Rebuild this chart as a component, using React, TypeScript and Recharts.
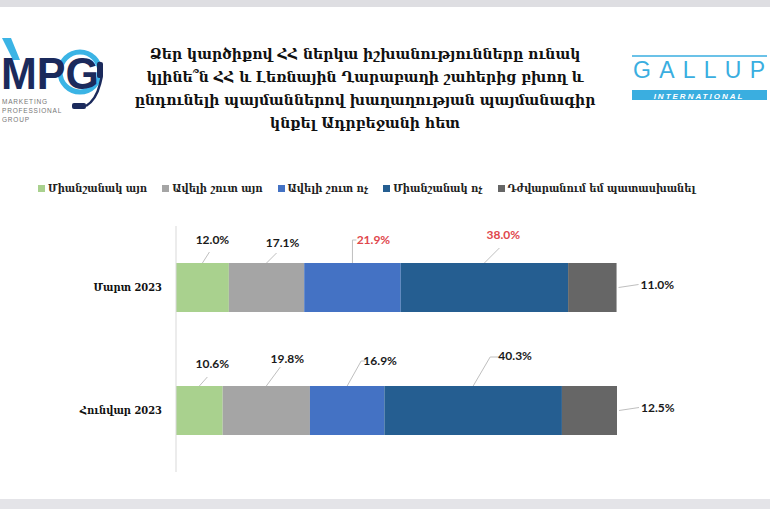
import { BarChart, Bar, XAxis, YAxis, LabelList } from "recharts"

// survey answers per wave (percent)
const categories = ["Մարտ 2023", "Հունվար 2023"]
const seriesNames = [
  "Միանշանակ այո",
  "Ավելի շուտ այո",
  "Ավելի շուտ ոչ",
  "Միանշանակ ոչ",
  "Դժվարանում եմ պատասխանել",
]
const yesDefinitely = [12.0, 10.6]
const yesRather = [17.1, 19.8]
const noRather = [21.9, 16.9]
const noDefinitely = [38.0, 40.3]
const hardToSay = [11.0, 12.5]

const titleLines = [
  "Ձեր կարծիքով ՀՀ ներկա իշխանությունները ունակ",
  "կլինե՞ն ՀՀ և Լեռնային Ղարաբաղի շահերից բխող և",
  "ընդունելի պայմաններով խաղաղության պայմանագիր",
  "կնքել Ադրբեջանի հետ",
]

const seriesValues = [yesDefinitely, yesRather, noRather, noDefinitely, hardToSay]
const colors = ["#a9d18e", "#a5a5a5", "#4472c4", "#255e91", "#666666"]
const keys = ["s0", "s1", "s2", "s3", "s4"]

const data = categories.map((name, i) => {
  const row: any = { name }
  seriesValues.forEach((vals, s) => (row[keys[s]] = vals[i]))
  return row
})

// leader-line / label placement per [row][series]: line end (lx, ly), elbow length, label centre (tx, ty)
// offsets from the segment's centre at the bar's top edge
const labelPos = [
  [
    { lx: 7, ly: -11, el: 0, tx: 10, ty: -22 },
    { lx: 10, ly: -10, el: 0, tx: 16, ty: -19 },
    { lx: 0, ly: -23, el: 4, tx: 21, ty: -22 },
    { lx: 15, ly: -15, el: 0, tx: 19, ty: -27 },
  ],
  [
    { lx: 8, ly: -9, el: 0, tx: 13, ty: -21 },
    { lx: 14, ly: -19, el: 0, tx: 21, ty: -26 },
    { lx: 14, ly: -25, el: 4, tx: 33, ty: -24 },
    { lx: 17, ly: -29, el: 10, tx: 42, ty: -29 },
  ],
]
const redLabels = ["0-2", "0-3"]

const serif = "'DejaVu Serif', serif"
const serifNarrow = "'DejaVu Serif Condensed', 'DejaVu Serif', serif"
const labelFont = "Lato, 'Liberation Sans', sans-serif"

function makeLabel(s: number) {
  return (p: any) => {
    const { x, y, width, height, value, index } = p
    const fill = redLabels.includes(`${index}-${s}`) ? "#e0474c" : "#1a1a1a"
    const txt = `${Number(value).toFixed(1)}%`
    if (s === 4) {
      const cy = y + height / 2
      const ex = x + width
      return (
        <g>
          <line x1={ex + 2} y1={cy} x2={ex + 22} y2={cy - 3} stroke="#bfbfbf" strokeWidth={1} />
          <text x={ex + 24} y={cy - 2} dominantBaseline="middle" fontFamily={labelFont} fontWeight={700} fontSize={12} fill={fill}>
            {txt}
          </text>
        </g>
      )
    }
    const pos = labelPos[index][s]
    const cx = x + width / 2
    return (
      <g>
        <polyline
          points={`${cx},${y} ${cx + pos.lx},${y + pos.ly} ${cx + pos.lx + pos.el},${y + pos.ly}`}
          fill="none"
          stroke="#bfbfbf"
          strokeWidth={1}
        />
        <text x={cx + pos.tx} y={y + pos.ty} textAnchor="middle" dominantBaseline="middle" fontFamily={labelFont} fontWeight={700} fontSize={12} fill={fill}>
          {txt}
        </text>
      </g>
    )
  }
}

function CategoryTick({ x, y, payload }: any) {
  return (
    <text x={x - 6} y={y} textAnchor="end" dominantBaseline="middle" fontFamily={serifNarrow} fontWeight={700} fontSize={11} fill="#111">
      {payload.value}
    </text>
  )
}

function MpgLogo() {
  return (
    <svg width={110} height={130} style={{ position: "absolute", left: 0, top: 0 }}>
      <polygon points="2,38 11,38 20,60 13,60" fill="#3bb4e5" />
      <circle cx={80} cy={72} r={20} fill="none" stroke="#3bb4e5" strokeWidth={5} />
      <text x={1} y={89} fontFamily="'Liberation Sans', Arial, sans-serif" fontWeight={700} fontSize={44} fill="#1b2a5c" textLength={98} lengthAdjust="spacingAndGlyphs">
        MPG
      </text>
      <path d="M99,62 Q104,72 100,84 Q96,100 86,106" fill="none" stroke="#1b2a5c" strokeWidth={2.5} />
      <rect x={97} y={62} width={6} height={16} rx={2} fill="#1b2a5c" />
      <rect x={72} y={103} width={14} height={6} rx={2} fill="#1b2a5c" />
      <g fontFamily="'Liberation Sans', Arial, sans-serif" fontSize={6.5} fill="#777" letterSpacing={0.8}>
        <text x={2} y={104}>MARKETING</text>
        <text x={2} y={113}>PROFESSIONAL</text>
        <text x={2} y={122}>GROUP</text>
      </g>
    </svg>
  )
}

function GallupLogo() {
  return (
    <svg width={140} height={60} style={{ position: "absolute", left: 630, top: 52 }}>
      <line x1={2} y1={4} x2={137} y2={4} stroke="#3aaee0" strokeWidth={1.5} />
      <text x={3} y={26} fontFamily="'Liberation Sans', Arial, sans-serif" fontSize={23} fill="#3aaee0" textLength={132} lengthAdjust="spacing">
        GALLUP
      </text>
      <rect x={2} y={38} width={135} height={10} fill="#3aaee0" />
      <text x={69} y={46.5} textAnchor="middle" fontFamily="'Liberation Sans', Arial, sans-serif" fontStyle="italic" fontWeight={700} fontSize={8} fill="#fff" letterSpacing={2}>
        INTERNATIONAL
      </text>
    </svg>
  )
}

export default function App() {
  return (
    <div style={{ position: "absolute", left: 0, top: 0, width: 770, height: 509, background: "#fff", overflow: "hidden" }}>
      <div style={{ position: "absolute", left: 0, top: 0, width: 770, height: 7, background: "#dedee2" }} />
      <div style={{ position: "absolute", left: 0, top: 499, width: 770, height: 10, background: "#e4e4e8" }} />
      <MpgLogo />
      <GallupLogo />

      <div
        style={{
          position: "absolute",
          left: 100,
          top: 43,
          width: 530,
          textAlign: "center",
          fontFamily: serif,
          fontWeight: 700,
          fontSize: 14,
          lineHeight: "23px",
          color: "#111",
        }}
      >
        {titleLines.map((l) => (
          <div key={l}>{l}</div>
        ))}
      </div>

      <div
        style={{
          position: "absolute",
          left: 38,
          top: 182,
          width: 720,
          display: "flex",
          alignItems: "center",
          whiteSpace: "nowrap",
          fontFamily: serifNarrow,
          fontWeight: 700,
          fontSize: 11,
          color: "#222",
        }}
      >
        {seriesNames.map((n, i) => (
          <div key={n} style={{ display: "flex", alignItems: "center", marginRight: 15 }}>
            <span style={{ width: 7, height: 7, background: colors[i], marginRight: 3, display: "inline-block" }} />
            <span>{n}</span>
          </div>
        ))}
      </div>

      <div style={{ position: "absolute", left: 0, top: 0 }}>
        <BarChart width={770} height={509} data={data} layout="vertical" margin={{ top: 226, right: 153, bottom: 37, left: 0 }}>
          <XAxis type="number" domain={[0, 100]} hide />
          <YAxis type="category" dataKey="name" width={176} axisLine={{ stroke: "#d9d9d9" }} tickLine={false} tick={<CategoryTick />} />
          {keys.map((k, s) => (
            <Bar key={k} dataKey={k} name={seriesNames[s]} stackId="a" fill={colors[s]} barSize={49} isAnimationActive={false}>
              <LabelList dataKey={k} content={makeLabel(s)} />
            </Bar>
          ))}
        </BarChart>
      </div>
    </div>
  )
}
